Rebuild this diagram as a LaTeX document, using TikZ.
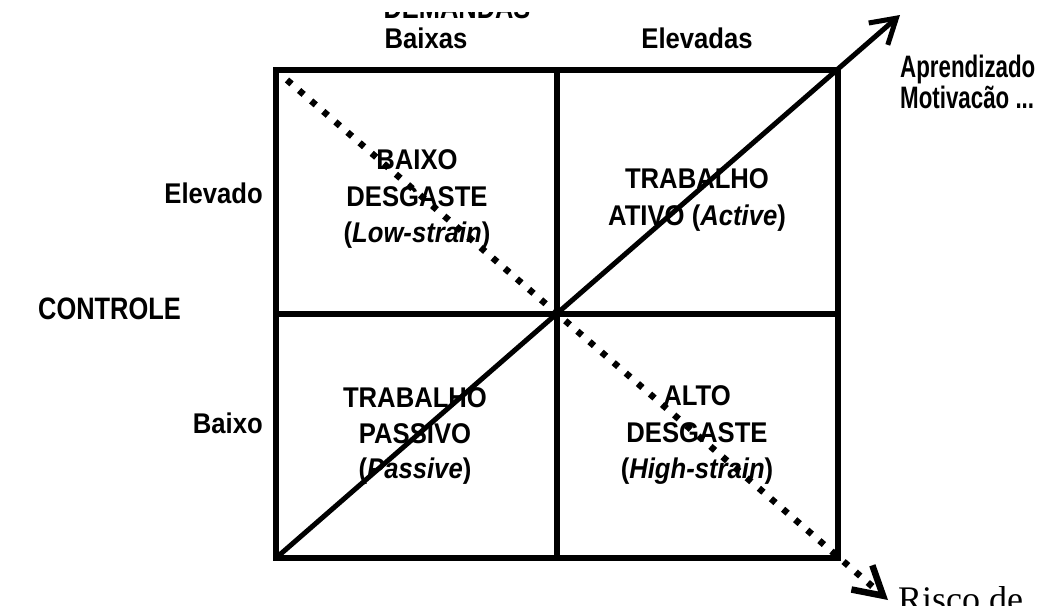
\documentclass[tikz,border=0pt]{standalone}
\usepackage{fontspec}
\setmainfont{Liberation Sans}
\newfontfamily\serifR{Liberation Serif}
\usetikzlibrary{arrows.meta}
\newcommand{\hsq}[2]{\scalebox{#1}[1]{#2}}
\begin{document}
\begin{tikzpicture}[x=1pt,y=-1pt,
  gridline/.style={line width=5.5pt},
  lab/.style={inner sep=0pt, font=\fontsize{28.5}{34}\selectfont\bfseries},
  big/.style={inner sep=0pt, font=\fontsize{31}{36}\selectfont\bfseries},
  side/.style={inner sep=0pt, font=\fontsize{31}{36}\selectfont\bfseries},
  risk/.style={inner sep=0pt, font=\fontsize{36}{40}\selectfont\serifR},
  solidarrow/.style={line width=5pt, -{Straight Barb[length=24pt,width=29pt]}},
  dotarrow/.style={line width=6.5pt, dash pattern=on 6pt off 10pt, -{Straight Barb[length=28pt,width=32pt]}}]
\useasboundingbox (0,0) rectangle (1043,605);
% grid corners
\coordinate (TL) at (276,70);
\coordinate (TM) at (557,70);
\coordinate (TR) at (838,70);
\coordinate (ML) at (276,314);
\coordinate (MR) at (838,314);
\coordinate (BL) at (276,558);
\coordinate (BM) at (557,558);
\coordinate (BR) at (838,558);
\coordinate (solidEnd) at (900,15);
\coordinate (dotStart) at (287,80);
\coordinate (dotEnd) at (888,600);
\draw[gridline] (TL) rectangle (BR);
\draw[gridline] (TM) -- (BM);
\draw[gridline] (ML) -- (MR);
\draw[solidarrow] (BL) -- (solidEnd);
\draw[dotarrow] (dotStart) -- (dotEnd);
% axis labels
\begin{scope}
\clip (0,12.5) rectangle (1043,605);
\node[big, anchor=base] (dem) at (457,18.5) {\hsq{0.82}{DEMANDAS}};
\end{scope}
\node[big, anchor=base east] (ctl) at (181,319) {\hsq{0.82}{CONTROLE}};
\node[lab, anchor=base] (bxs) at (426,48) {\hsq{0.9}{Baixas}};
\node[lab, anchor=base] (elv) at (697,48) {\hsq{0.9}{Elevadas}};
\node[lab, anchor=base east] (elo) at (263,203) {\hsq{0.9}{Elevado}};
\node[lab, anchor=base east] (bxo) at (263,433) {\hsq{0.9}{Baixo}};
\node[side, anchor=base west] (apr) at (900,77) {\hsq{0.72}{Aprendizado}};
\node[side, anchor=base west] (mot) at (900,108) {\hsq{0.72}{Motivacão ...}};
\node[risk, anchor=base west] (risco) at (898,611) {Risco de};
% cell texts
\node[lab, anchor=base] (a1) at (417,169) {\hsq{0.9}{BAIXO}};
\node[lab, anchor=base] (a2) at (417,206) {\hsq{0.9}{DESGASTE}};
\node[lab, anchor=base] (a3) at (417,242) {\hsq{0.9}{(\textit{Low-strain})}};
\node[lab, anchor=base] (b1) at (697,188) {\hsq{0.9}{TRABALHO}};
\node[lab, anchor=base] (b2) at (697,225) {\hsq{0.9}{ATIVO (\textit{Active})}};
\node[lab, anchor=base] (c1) at (415,407) {\hsq{0.9}{TRABALHO}};
\node[lab, anchor=base] (c2) at (415,443) {\hsq{0.9}{PASSIVO}};
\node[lab, anchor=base] (c3) at (415,478) {\hsq{0.9}{(\textit{Passive})}};
\node[lab, anchor=base] (d1) at (697,405) {\hsq{0.9}{ALTO}};
\node[lab, anchor=base] (d2) at (697,442) {\hsq{0.9}{DESGASTE}};
\node[lab, anchor=base] (d3) at (697,478) {\hsq{0.9}{(\textit{High-strain})}};
\end{tikzpicture}
\end{document}
